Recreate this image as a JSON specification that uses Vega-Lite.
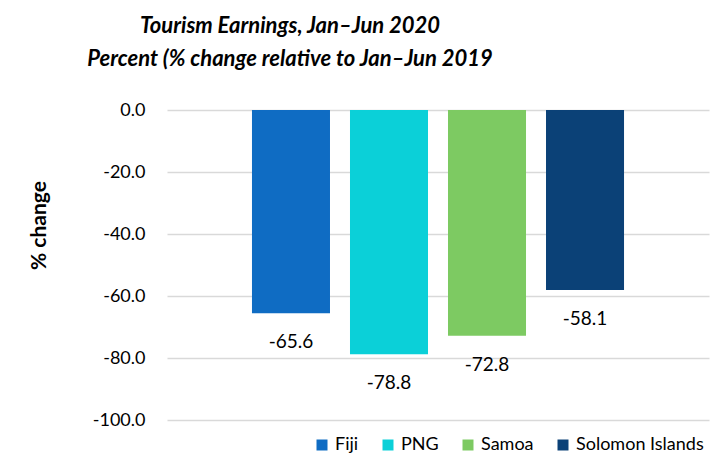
{
  "$schema": "https://vega.github.io/schema/vega-lite/v6.json",
  "width": 542,
  "height": 310,
  "autosize": {"type": "none"},
  "padding": {"left": 167, "top": 110, "right": 18, "bottom": 39},
  "background": "white",
  "title": {
    "text": ["Tourism Earnings, Jan–Jun 2020", "Percent (% change relative to Jan–Jun 2019"],
    "font": "Lato",
    "fontSize": 22,
    "fontWeight": "bold",
    "fontStyle": "italic",
    "color": "#000000",
    "anchor": "middle",
    "dx": -148,
    "offset": 30,
    "lineHeight": 33
  },
  "data": {
    "values": [
      {"country": "Fiji", "value": -65.6},
      {"country": "PNG", "value": -78.8},
      {"country": "Samoa", "value": -72.8},
      {"country": "Solomon Islands", "value": -58.1}
    ]
  },
  "encoding": {
    "x": {
      "field": "country",
      "type": "nominal",
      "sort": null,
      "axis": null,
      "scale": {"paddingInner": 0.204, "paddingOuter": 0.867}
    },
    "y": {
      "field": "value",
      "type": "quantitative",
      "scale": {"domain": [-100, 0], "nice": false},
      "axis": {
        "values": [0, -20, -40, -60, -80, -100],
        "format": ".1f",
        "domain": false,
        "ticks": false,
        "tickSize": 0,
        "labelPadding": 22,
        "labelFont": "Lato",
        "labelFontSize": 18,
        "labelColor": "#000000",
        "gridColor": "#d9d9d9",
        "gridWidth": 1.5,
        "title": "% change",
        "titleFont": "Lato",
        "titleFontSize": 21,
        "titleFontWeight": "bold",
        "titleColor": "#000000",
        "titleAngle": -90,
        "titleX": -128,
        "titleY": 115,
        "titleAlign": "center",
        "titleBaseline": "middle"
      }
    }
  },
  "layer": [
    {
      "mark": {"type": "bar"},
      "encoding": {
        "color": {
          "field": "country",
          "type": "nominal",
          "sort": null,
          "scale": {
            "domain": ["Fiji", "PNG", "Samoa", "Solomon Islands"],
            "range": ["#0F6CC3", "#0BD0D8", "#7DCA62", "#0B4177"]
          },
          "legend": {
            "orient": "none",
            "legendX": 146,
            "legendY": 326,
            "direction": "horizontal",
            "title": null,
            "symbolType": "square",
            "symbolSize": 121,
            "symbolStrokeWidth": 0,
            "labelFont": "Lato",
            "labelFontSize": 18,
            "labelColor": "#000000",
            "labelOffset": 4,
            "columnPadding": 20
          }
        }
      }
    },
    {
      "mark": {"type": "text", "baseline": "top", "dy": 20, "font": "Lato", "fontSize": 19, "color": "#000000"},
      "encoding": {
        "text": {"field": "value", "type": "quantitative", "format": ".1f"}
      }
    }
  ],
  "config": {
    "view": {"stroke": null},
    "locale": {
      "number": {
        "decimal": ".",
        "thousands": ",",
        "grouping": [3],
        "currency": ["$", ""],
        "minus": "-"
      }
    }
  }
}
